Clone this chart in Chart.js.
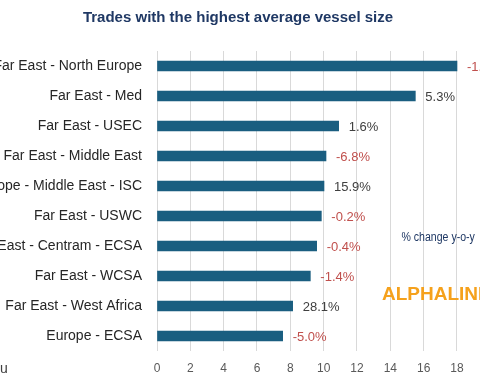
<!DOCTYPE html>
<html>
<head>
<meta charset="utf-8">
<script src="https://cdn.jsdelivr.net/npm/chart.js@4.4.0/dist/chart.umd.min.js"></script>
<style>
  html, body { margin: 0; padding: 0; background: #ffffff; }
  #wrap { position: relative; width: 480px; height: 381px; overflow: hidden; background: #ffffff; }
  #c { position: absolute; left: 0; top: 0; }
</style>
</head>
<body>
<div id="wrap"><canvas id="c" width="520" height="381"></canvas></div>
<script>
const categories = [
  "Far East - North Europe",
  "Far East - Med",
  "Far East - USEC",
  "Far East - Middle East",
  "Europe - Middle East - ISC",
  "Far East - USWC",
  "Far East - Centram - ECSA",
  "Far East - WCSA",
  "Far East - West Africa",
  "Europe - ECSA"
];
const avgVesselSize = [18.0, 15.5, 10.9, 10.14, 10.02, 9.86, 9.58, 9.2, 8.14, 7.54];
const changeYoY = [-1.5, 5.3, 1.6, -6.8, 15.9, -0.2, -0.4, -1.4, 28.1, -5.0];
const xTicks = [0, 2, 4, 6, 8, 10, 12, 14, 16, 18, 20];

const FONT = "'Liberation Sans', Arial, sans-serif";

const extras = {
  id: 'extras',
  afterDatasetsDraw(chart) {
    const ctx = chart.ctx;
    const meta = chart.getDatasetMeta(0);
    ctx.save();
    ctx.font = "13px " + FONT;
    ctx.textBaseline = 'middle';
    ctx.textAlign = 'left';
    meta.data.forEach((bar, i) => {
      const v = changeYoY[i];
      ctx.fillStyle = v < 0 ? '#c0504d' : '#404040';
      ctx.fillText(v.toFixed(1) + '%', bar.x + 10, bar.y + 1);
    });
    ctx.restore();
  },
  afterDraw(chart) {
    const ctx = chart.ctx;
    ctx.save();
    // title
    ctx.font = "bold 15px " + FONT;
    ctx.fillStyle = '#1f3864';
    ctx.textAlign = 'center';
    ctx.textBaseline = 'alphabetic';
    ctx.fillText('Trades with the highest average vessel size', 238, 22);
    // % change label
    ctx.save();
    ctx.translate(401.5, 240.5);
    ctx.scale(0.88, 1);
    ctx.font = "12px " + FONT;
    ctx.textAlign = 'left';
    ctx.fillText('% change y-o-y', 0, 0);
    ctx.restore();
    // logo
    ctx.font = "bold 19px " + FONT;
    ctx.fillStyle = '#f5a11c';
    ctx.textAlign = 'left';
    ctx.fillText('ALPHALINER', 382, 300);
    // bottom-left fragment
    ctx.font = "14px " + FONT;
    ctx.fillStyle = '#404040';
    ctx.fillText('u', 0, 373);
    ctx.restore();
  }
};

new Chart(document.getElementById('c'), {
  type: 'bar',
  data: {
    labels: categories,
    datasets: [{
      data: avgVesselSize,
      backgroundColor: '#1a5e80',
      barThickness: 10
    }]
  },
  options: {
    indexAxis: 'y',
    responsive: false,
    animation: false,
    devicePixelRatio: 1,
    layout: { padding: { left: 0, right: 29.67, top: 51, bottom: 0 } },
    plugins: { legend: { display: false }, title: { display: false }, tooltip: { enabled: false } },
    scales: {
      x: {
        min: 0, max: 20,
        afterFit(s) { s.height = 30; },
        afterBuildTicks(s) { s.ticks = xTicks.map(v => ({ value: v })); },
        grid: { color: '#d9d9d9', lineWidth: 1, drawTicks: false },
        border: { display: false },
        ticks: {
          padding: 10,
          color: '#595959',
          font: { family: FONT, size: 12 },
          callback: v => (v > 18 ? '' : String(v))
        }
      },
      y: {
        afterFit(s) { s.width = 157; },
        grid: { display: false, drawTicks: false },
        border: { display: false },
        ticks: {
          padding: 15,
          color: '#262626',
          font: { family: FONT, size: 14 }
        }
      }
    }
  },
  plugins: [extras]
});
</script>
</body>
</html>
